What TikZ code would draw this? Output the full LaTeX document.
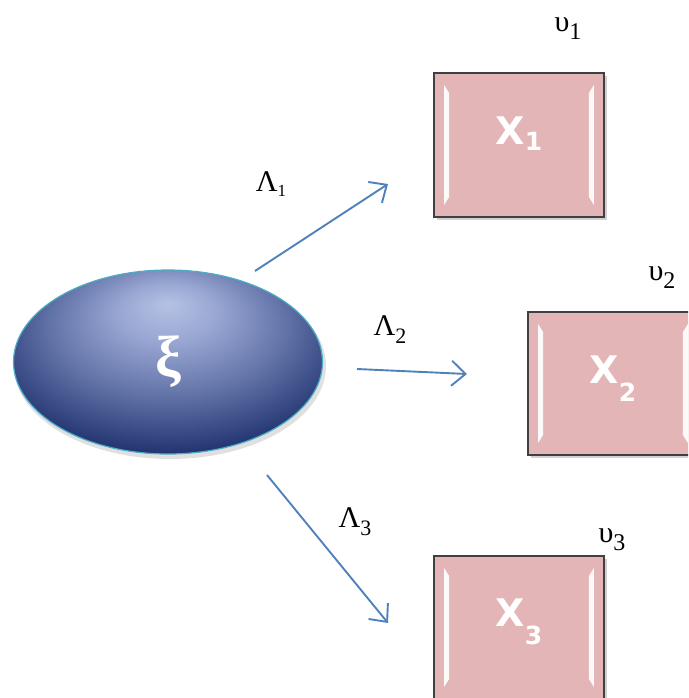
\documentclass[tikz,border=0pt]{standalone}
\usepackage{fontspec}
\setmainfont{Liberation Serif}
\newfontfamily\boxfont{DejaVu Sans}
\usetikzlibrary{shapes.geometric,arrows.meta}
\definecolor{pinkfill}{RGB}{228,181,182}
\definecolor{arrowblue}{RGB}{79,129,189}
\definecolor{elledge}{RGB}{75,172,198}
\definecolor{ellight}{RGB}{182,194,228}
\definecolor{ellsoft}{RGB}{152,166,210}
\definecolor{ellmid}{RGB}{98,115,168}
\definecolor{elldark}{RGB}{34,52,112}
\pgfdeclareradialshading{ellshade}{\pgfpoint{0bp}{16bp}}{color(0bp)=(ellight); color(8bp)=(ellsoft); color(19bp)=(ellmid); color(31bp)=(elldark); color(50bp)=(elldark)}
\begin{document}
\begin{tikzpicture}[x=1pt,y=-1pt,
  pbox/.style={rectangle, draw=black!75, line width=1.6pt, fill=pinkfill,
    minimum width=170pt, minimum height=144pt, inner sep=0pt},
  pshadow/.style={fill=black, opacity=0.18},
  hl/.style={fill=white, opacity=0.92},
  boxtxt/.style={text=white, font=\boxfont\bfseries\fontsize{38}{38}\selectfont, inner sep=0pt},
  lab/.style={text=black, font=\fontsize{30}{30}\selectfont, inner sep=0pt},
  conn/.style={draw=arrowblue, line width=1.9pt, -{Straight Barb[length=14pt,width=25pt]}},
  ell/.style={ellipse, shading=ellshade, draw=elledge, line width=1.2pt,
    minimum width=309pt, minimum height=184pt, inner sep=0pt,
    text=white, font=\bfseries\fontsize{58}{58}\selectfont}]
\useasboundingbox (0,0) rectangle (688,698);
\clip (0,0) rectangle (688,698);
% shadows
\fill[pshadow] (437,76) rectangle (607,220);
\fill[pshadow] (531,315) rectangle (701,458);
\fill[pshadow] (437,559) rectangle (607,702);
\fill[black, opacity=0.12] (170,366) ellipse (156pt and 93pt);
% ellipse
\node[ell] (xi) at (168,362) {ξ};
% boxes
\node[pbox] (b1) at (519,145) {};
\node[pbox, minimum height=143pt] (b2) at (613,383.5) {};
\node[pbox, minimum height=143pt] (b3) at (519,627.5) {};
\foreach \b in {b1,b2,b3}{
  \fill[hl] ([shift={(11,13)}]\b.north west) -- ([shift={(16,21)}]\b.north west)
    -- ([shift={(16,-21)}]\b.south west) -- ([shift={(11,-13)}]\b.south west) -- cycle;
  \fill[hl] ([shift={(-11,13)}]\b.north east) -- ([shift={(-16,21)}]\b.north east)
    -- ([shift={(-16,-21)}]\b.south east) -- ([shift={(-11,-13)}]\b.south east) -- cycle;
}
% box texts
\node[boxtxt] (t1) at (519,134) {X\raisebox{-6pt}{\fontsize{25}{25}\selectfont 1}};
\node[boxtxt] (t2) at (613,379) {X\raisebox{-18pt}{\fontsize{25}{25}\selectfont 2}};
\node[boxtxt] (t3) at (519,622) {X\raisebox{-18pt}{\fontsize{25}{25}\selectfont 3}};
% upsilon labels
\node[lab] (u1) at (568,28) {υ\raisebox{-8pt}{\fontsize{24}{24}\selectfont 1}};
\node[lab] (u2) at (662,277) {υ\raisebox{-8pt}{\fontsize{24}{24}\selectfont 2}};
\node[lab] (u3) at (612,540) {υ\raisebox{-8pt}{\fontsize{24}{24}\selectfont 3}};
% lambda labels
\node[lab] (L1) at (271,184) {Λ\raisebox{-5pt}{\fontsize{17}{17}\selectfont 1}};
\node[lab] (L2) at (390,330) {Λ\raisebox{-8pt}{\fontsize{22}{22}\selectfont 2}};
\node[lab] (L3) at (355,522) {Λ\raisebox{-8pt}{\fontsize{22}{22}\selectfont 3}};
% arrows
\coordinate (a1s) at (255,271);
\coordinate (a1e) at (388,184);
\coordinate (a2s) at (357,369);
\coordinate (a2e) at (467,374);
\coordinate (a3s) at (267,475);
\coordinate (a3e) at (388,623);
\draw[conn] (a1s) -- (a1e);
\draw[conn] (a2s) -- (a2e);
\draw[conn] (a3s) -- (a3e);
\end{tikzpicture}
\end{document}
